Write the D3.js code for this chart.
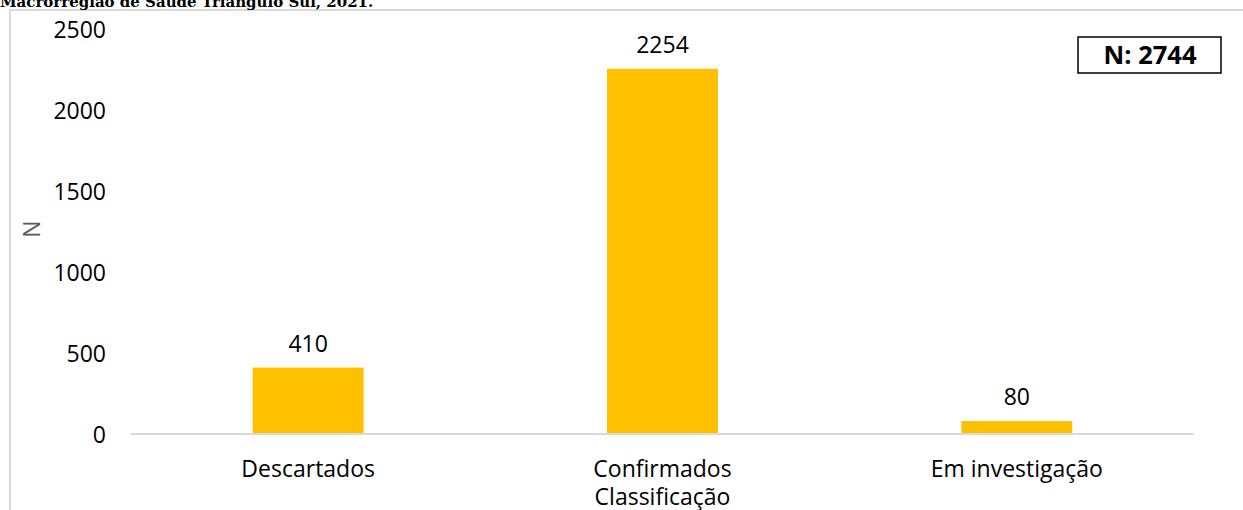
<!DOCTYPE html>
<html>
<head>
<meta charset="utf-8">
<script src="https://cdn.jsdelivr.net/npm/d3@7"></script>
<style>
  html, body { margin: 0; padding: 0; background: #fff; }
  svg { display: block; }
  text { font-family: "Open Sans", "Noto Sans", sans-serif; }
</style>
</head>
<body>
<svg id="chart" width="1243" height="510"></svg>
<script>
const categories = ["Descartados", "Confirmados", "Em investigação"];
const values = [410, 2254, 80];
const yTicks = [0, 500, 1000, 1500, 2000, 2500];
const titleText = "Macrorregião de Saúde Triângulo Sul, 2021.";
const xAxisTitle = "Classificação";
const yAxisTitle = "N";
const totalLabel = "N: 2744";

const svg = d3.select("#chart");
const W = 1243, H = 510;
const plot = { left: 131, right: 1194, top: 29, bottom: 434 };
const FS = 23;

// outer chart border (light gray)
svg.append("rect")
  .attr("x", 10).attr("y", 10)
  .attr("width", W + 20).attr("height", H + 20)
  .attr("fill", "none").attr("stroke", "#d9d9d9").attr("stroke-width", 2);

// title (partially cut off at top, as in the reference)
svg.append("text")
  .attr("x", 0).attr("y", 6.5)
  .style("font-family", "'DejaVu Serif', serif")
  .attr("font-weight", "bold")
  .attr("font-size", 15)
  .attr("fill", "#000")
  .text(titleText);

const x = d3.scaleBand()
  .domain(categories)
  .range([plot.left, plot.right])
  .paddingInner(0.687)
  .paddingOuter(0.3435);

const y = d3.scaleLinear()
  .domain([0, 2500])
  .range([plot.bottom, plot.top]);

// y tick labels
const yAxis = d3.axisLeft(y).tickValues(yTicks).tickFormat(d3.format("d")).tickSize(0).tickPadding(0);
const gy = svg.append("g").attr("transform", "translate(106,0)").call(yAxis);
gy.select(".domain").remove();
gy.selectAll("text")
  .attr("font-size", FS)
  .style("font-family", "'Open Sans', sans-serif")
  .attr("fill", "#000")
  .attr("dy", "0.35em");

// bars
svg.append("g").selectAll("rect")
  .data(categories)
  .join("rect")
  .attr("x", d => x(d))
  .attr("width", x.bandwidth())
  .attr("y", (d, i) => y(values[i]))
  .attr("height", (d, i) => y(0) - y(values[i]))
  .attr("fill", "#FFC000");

// x axis line + labels
const xAxis = d3.axisBottom(x).tickSize(0).tickPadding(0);
const gx = svg.append("g").attr("transform", `translate(0,${plot.bottom})`).call(xAxis);
gx.select(".domain").attr("stroke", "#d9d9d9").attr("stroke-width", 2)
  .attr("d", `M${plot.left},0H${plot.right}`);
gx.selectAll("text")
  .attr("font-size", FS)
  .style("font-family", "'Open Sans', sans-serif")
  .attr("fill", "#000")
  .attr("y", 35)
  .attr("dy", "0.35em");

// data labels
svg.append("g").selectAll("text")
  .data(categories)
  .join("text")
  .attr("x", d => x(d) + x.bandwidth() / 2)
  .attr("y", (d, i) => y(values[i]) - 24)
  .attr("dy", "0.35em")
  .attr("text-anchor", "middle")
  .attr("font-size", FS)
  .attr("fill", "#000")
  .text((d, i) => values[i]);

// axis titles
svg.append("text")
  .attr("x", (plot.left + plot.right) / 2)
  .attr("y", 497).attr("dy", "0.35em")
  .attr("text-anchor", "middle")
  .attr("font-size", FS)
  .attr("fill", "#000")
  .text(xAxisTitle);

svg.append("text")
  .attr("transform", "translate(32,229) rotate(-90)")
  .attr("dy", "0.35em")
  .attr("text-anchor", "middle")
  .attr("font-size", FS)
  .attr("fill", "#595959")
  .text(yAxisTitle);

// total box
const box = svg.append("g");
box.append("rect")
  .attr("x", 1078).attr("y", 37)
  .attr("width", 143).attr("height", 36)
  .attr("fill", "#fff").attr("stroke", "#000").attr("stroke-width", 1.5);
box.append("text")
  .attr("x", 1150).attr("y", 55).attr("dy", "0.35em")
  .attr("text-anchor", "middle")
  .attr("font-size", 25.5)
  .attr("font-weight", "bold")
  .attr("fill", "#000")
  .text(totalLabel);
</script>
</body>
</html>
